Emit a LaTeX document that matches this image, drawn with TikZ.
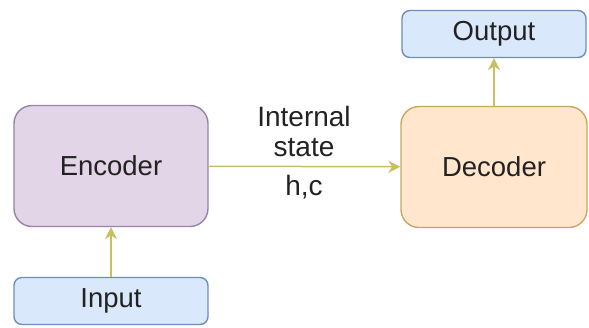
\documentclass[tikz,border=0pt]{standalone}
\usepackage{fontspec}
\setmainfont{Liberation Sans}
\usetikzlibrary{arrows.meta}
\definecolor{encfill}{HTML}{E1D5E7}
\definecolor{encdraw}{HTML}{9A82A8}
\definecolor{decfill}{HTML}{FFE6CC}
\definecolor{decdraw}{HTML}{C8A860}
\definecolor{iofill}{HTML}{DAE8FC}
\definecolor{iodraw}{HTML}{6C8EBF}
\definecolor{arr}{HTML}{C8C060}
\definecolor{txt}{HTML}{222222}
\tikzset{
  bigbox/.style={rounded corners=18pt, line width=1.4pt, inner sep=0pt, font=\fontsize{27.5}{30}\selectfont, text=txt},
  iobox/.style={rounded corners=8pt, line width=1.4pt, fill=iofill, draw=iodraw, inner sep=0pt, font=\fontsize{27.5}{30}\selectfont, text=txt},
  conn/.style={draw=arr, line width=1.5pt, -{Stealth[length=12pt,width=12pt]}},
  lbl/.style={font=\fontsize{28}{30}\selectfont, text=txt}
}
\begin{document}
\begin{tikzpicture}[x=1pt,y=-1pt]
\useasboundingbox (0,0) rectangle (589,327);
\node[bigbox, fill=encfill, draw=encdraw, minimum width=194pt, minimum height=121pt] (enc) at (111,166) {Encoder};
\node[bigbox, fill=decfill, draw=decdraw, minimum width=186pt, minimum height=121pt] (dec) at (494,167) {Decoder};
\node[iobox, minimum width=194pt, minimum height=47pt] (in) at (111,301) {Input};
\node[iobox, minimum width=184pt, minimum height=47pt] (out) at (494,34) {Output};
\draw[conn] (in) -- (enc);
\draw[conn] (enc) -- (dec);
\draw[conn] (dec) -- (out);
\node[lbl] (l1) at (304,116) {Internal};
\node[lbl] (l2) at (304,148) {state};
\node[lbl] (l3) at (304,187) {h,c};
\end{tikzpicture}
\end{document}
